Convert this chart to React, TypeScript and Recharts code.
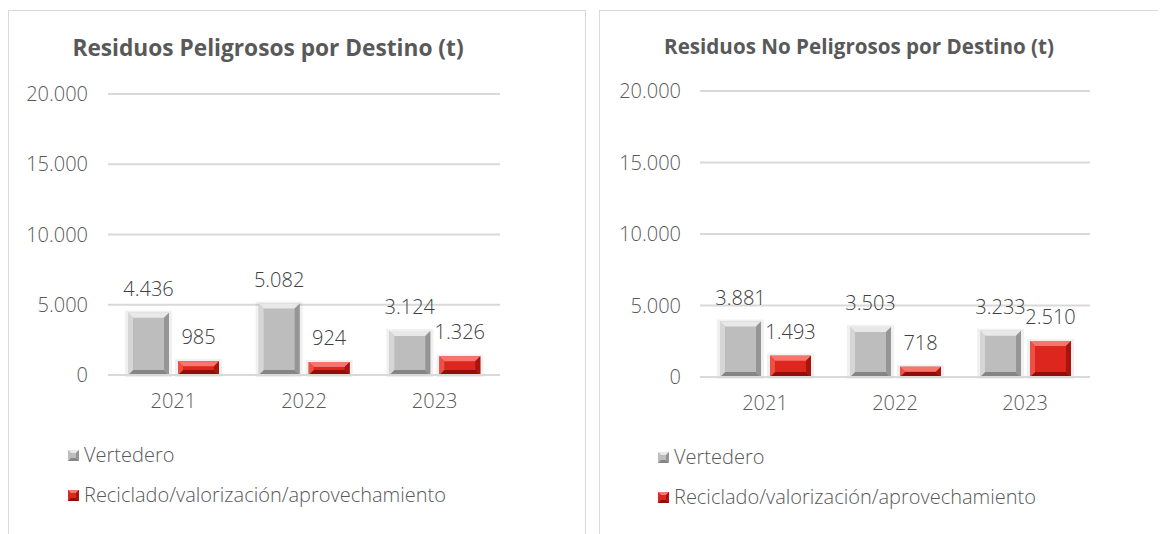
import React from "react";
import { BarChart, Bar, XAxis, YAxis, CartesianGrid, LabelList } from "recharts";

const years = ["2021", "2022", "2023"];
const yTicks = [0, 5000, 10000, 15000, 20000];

// Residuos peligrosos (t)
const peligrososVertedero = [4436, 5082, 3124];
const peligrososReciclado = [985, 924, 1326];

// Residuos no peligrosos (t)
const noPeligrososVertedero = [3881, 3503, 3233];
const noPeligrososReciclado = [1493, 718, 2510];

const FONT = "'Open Sans', sans-serif";
const TICK_COLOR = "#595959";
const LABEL_COLOR = "#404040";

const palette: Record<string, { face: string; top: string; left: string; right: string; bottom: string }> = {
  gray: { face: "#bdbdbd", top: "#e8e8e8", left: "#d6d6d6", right: "#959595", bottom: "#858585" },
  red: { face: "#dc261e", top: "#f4766c", left: "#ec5046", right: "#a8140e", bottom: "#920c08" },
};

const fmt = (n: number | string) => String(n).replace(/\B(?=(\d{3})+(?!\d))/g, ".");

const BevelBar = (props: any) => {
  const { x, y, width, height, tone } = props;
  if (!height || height <= 0) return null;
  const c = palette[tone];
  const b = Math.min(5, height / 2, width / 2);
  const r = x + width;
  const btm = y + height;
  return (
    <g>
      <rect x={x - 3} y={y - 2} width={width + 6} height={height + 4} fill="rgba(0,0,0,0.06)" />
      <rect x={x} y={y} width={width} height={height} fill={c.face} />
      <polygon points={`${x},${y} ${r},${y} ${r - b},${y + b} ${x + b},${y + b}`} fill={c.top} />
      <polygon points={`${x},${btm} ${r},${btm} ${r - b},${btm - b} ${x + b},${btm - b}`} fill={c.bottom} />
      <polygon points={`${x},${y} ${x + b},${y + b} ${x + b},${btm - b} ${x},${btm}`} fill={c.left} />
      <polygon points={`${r},${y} ${r - b},${y + b} ${r - b},${btm - b} ${r},${btm}`} fill={c.right} />
    </g>
  );
};

const LegendSwatch = ({ tone }: { tone: string }) => {
  const c = palette[tone];
  return (
    <svg width={11} height={11} style={{ display: "block" }}>
      <rect x={0} y={0} width={11} height={11} fill={c.face} />
      <polygon points="0,0 11,0 8,3 3,3" fill={c.top} />
      <polygon points="0,11 11,11 8,8 3,8" fill={c.bottom} />
      <polygon points="11,0 8,3 8,8 11,11" fill={c.right} />
    </svg>
  );
};

interface PanelProps {
  title: string;
  titleSize: number;
  vertedero: number[];
  reciclado: number[];
  left: number;
  width: number;
  margin: { top: number; right: number; bottom: number; left: number };
  yWidth: number;
  yTickMargin: number;
  legendLeft: number;
  legendTop: number;
}

const Panel = (p: PanelProps) => {
  const data = years.map((year, i) => ({
    year,
    vertedero: p.vertedero[i],
    reciclado: p.reciclado[i],
  }));

  const tickStyle = { fill: TICK_COLOR, fontSize: 20, fontFamily: FONT, fontWeight: 300 };
  const labelStyle = { fill: LABEL_COLOR, fontSize: 20, fontFamily: FONT, fontWeight: 300 };

  return (
    <div
      style={{
        position: "absolute",
        left: p.left,
        top: 2,
        width: p.width,
        height: 540,
        border: "1px solid #d9d9d9",
        background: "#fff",
      }}
    >
      <div
        style={{
          position: "absolute",
          left: 0,
          width: 518,
          top: 21,
          textAlign: "center",
          fontFamily: FONT,
          fontWeight: 700,
          fontSize: p.titleSize,
          color: TICK_COLOR,
          whiteSpace: "nowrap",
        }}
      >
        {p.title}
      </div>

      <div style={{ position: "absolute", left: 0, top: 0 }}>
        <BarChart
          width={576}
          height={520}
          data={data}
          margin={p.margin}
          barGap={9}
          barCategoryGap={20}
        >
          <CartesianGrid vertical={false} stroke="#d9d9d9" strokeWidth={2} />
          <XAxis
            dataKey="year"
            axisLine={{ stroke: "#d9d9d9", strokeWidth: 2 }}
            tickLine={false}
            tickMargin={13}
            tick={tickStyle}
          />
          <YAxis
            domain={[0, 20000]}
            ticks={yTicks}
            width={p.yWidth}
            axisLine={false}
            tickLine={false}
            tickMargin={p.yTickMargin}
            tickFormatter={fmt}
            tick={tickStyle}
          />
          <Bar dataKey="vertedero" isAnimationActive={false} shape={(s: any) => <BevelBar {...s} tone="gray" />}>
            <LabelList dataKey="vertedero" position="top" offset={17} formatter={fmt} style={labelStyle} />
          </Bar>
          <Bar dataKey="reciclado" isAnimationActive={false} shape={(s: any) => <BevelBar {...s} tone="red" />}>
            <LabelList dataKey="reciclado" position="top" offset={17} formatter={fmt} style={labelStyle} />
          </Bar>
        </BarChart>
      </div>

      <div
        style={{
          position: "absolute",
          left: p.legendLeft,
          top: p.legendTop,
          fontFamily: FONT,
          fontWeight: 300,
          fontSize: 20,
          color: TICK_COLOR,
          lineHeight: "40px",
        }}
      >
        <div style={{ display: "flex", alignItems: "center", gap: 5 }}>
          <LegendSwatch tone="gray" />
          <span>Vertedero</span>
        </div>
        <div style={{ display: "flex", alignItems: "center", gap: 5 }}>
          <LegendSwatch tone="red" />
          <span>Reciclado/valorización/aprovechamiento</span>
        </div>
      </div>
    </div>
  );
};

export default function App() {
  return (
    <div style={{ position: "relative", width: 1158, height: 526, overflow: "hidden" }}>
      <Panel
        title="Residuos Peligrosos por Destino (t)"
        titleSize={22.7}
        vertedero={peligrososVertedero}
        reciclado={peligrososReciclado}
        left={0}
        width={576}
        margin={{ top: 83, right: 85, bottom: 126, left: 0 }}
        yWidth={99}
        yTickMargin={14}
        legendLeft={59}
        legendTop={424}
      />
      <Panel
        title="Residuos No Peligrosos por Destino (t)"
        titleSize={20.6}
        vertedero={noPeligrososVertedero}
        reciclado={noPeligrososReciclado}
        left={591}
        width={600}
        margin={{ top: 80, right: 86, bottom: 124, left: 0 }}
        yWidth={100}
        yTickMargin={13}
        legendLeft={58}
        legendTop={426}
      />
    </div>
  );
}
